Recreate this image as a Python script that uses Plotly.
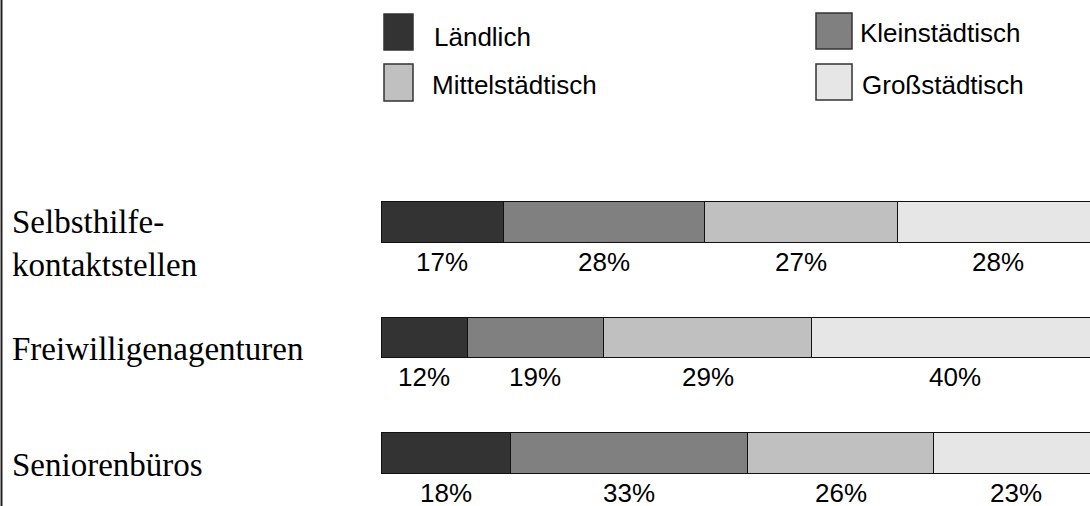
import plotly.graph_objects as go

categories = ["Selbsthilfe-<br>kontaktstellen", "Freiwilligenagenturen", "Seniorenbüros"]
series_names = ["Ländlich", "Kleinstädtisch", "Mittelstädtisch", "Großstädtisch"]
laendlich = [17, 12, 18]
kleinstaedtisch = [28, 19, 33]
mittelstaedtisch = [27, 29, 26]
grossstaedtisch = [28, 40, 23]

colors = ["#333333", "#808080", "#c0c0c0", "#e6e6e6"]
series = [laendlich, kleinstaedtisch, mittelstaedtisch, grossstaedtisch]

W, H = 1090, 506
fig = go.Figure()

for name, vals, col in zip(series_names, series, colors):
    fig.add_trace(go.Bar(
        y=categories, x=vals, name=name, orientation="h",
        marker=dict(color=col, line=dict(color="#111111", width=1)),
        width=0.35, showlegend=False,
    ))

# percentage labels under each segment
annotations = []
for i, cat in enumerate(categories):
    start = 0
    for vals in series:
        v = vals[i]
        annotations.append(dict(
            x=start + v / 2, y=cat, xref="x", yref="y",
            text=f"{v}%", showarrow=False, yshift=-40,
            font=dict(family="Liberation Sans", size=26, color="black"),
        ))
        start += v

# category labels on the left (two-line label sits a bit lower)
for cat in categories:
    annotations.append(dict(
        x=10 / W, y=cat, xref="paper", yref="y", xanchor="left",
        text=cat, showarrow=False, align="left",
        yshift=-22 if "<br>" in cat else -12,
        font=dict(family="Liberation Serif", size=33, color="black"),
    ))

# hand-drawn legend (large swatches)
legend_pos = [  # swatch x0,x1,y0,y1 and text x,y in pixels
    (384, 413, 14, 50, 432, 37),
    (816, 852, 13, 49, 858, 33),
    (384, 413, 64, 101, 430, 85),
    (816, 852, 64, 100, 860, 85),
]
shapes = []
for name, col, (sx0, sx1, sy0, sy1, tx, ty) in zip(series_names, colors, legend_pos):
    shapes.append(dict(type="rect", xref="paper", yref="paper",
                       x0=sx0 / W, x1=sx1 / W, y0=1 - sy0 / H, y1=1 - sy1 / H,
                       fillcolor=col, line=dict(color="#333333", width=1.5)))
    annotations.append(dict(
        x=tx / W, y=1 - ty / H, xref="paper", yref="paper",
        xanchor="left", yanchor="middle", text=name, showarrow=False,
        font=dict(family="Liberation Sans", size=26, color="black"),
    ))

# left frame line
shapes.append(dict(type="line", xref="paper", yref="paper",
                   x0=1.5 / W, x1=1.5 / W, y0=0, y1=1,
                   line=dict(color="#222222", width=2)))

fig.update_layout(
    barmode="stack",
    width=W, height=H,
    margin=dict(l=0, r=0, t=0, b=0),
    plot_bgcolor="white", paper_bgcolor="white",
    xaxis=dict(domain=[381 / W, 1], range=[0, 98.75], visible=False, fixedrange=True),
    yaxis=dict(range=[2.459, -1.922], visible=False, fixedrange=True),
    annotations=annotations,
    shapes=shapes,
)

fig.write_html("out.html", post_script="document.body.style.margin='0';",
               config={"displayModeBar": False})
